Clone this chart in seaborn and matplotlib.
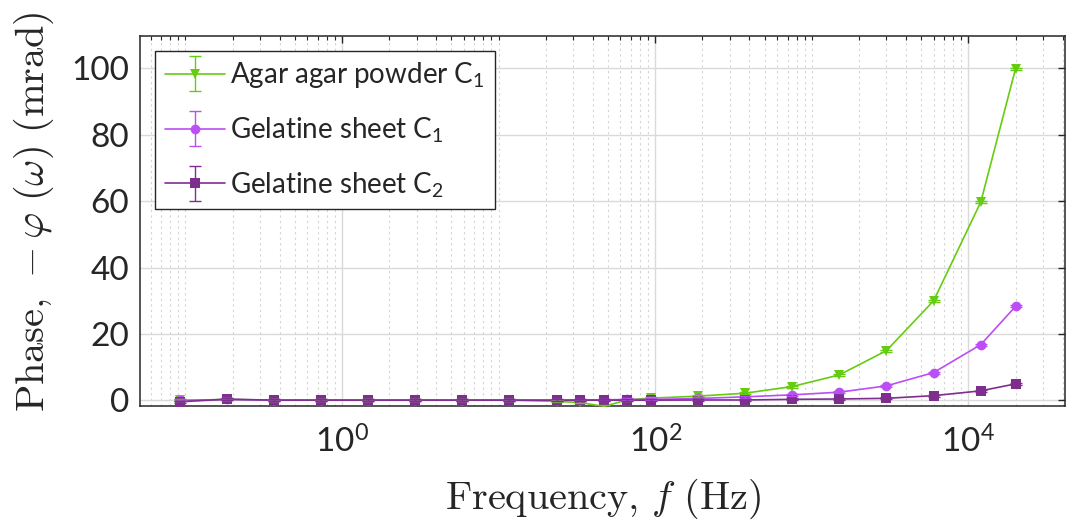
import numpy as np
import pandas as pd
import seaborn as sns
import matplotlib
matplotlib.use("Agg")
import matplotlib.pyplot as plt
from matplotlib.ticker import FixedLocator, LogLocator, NullFormatter, LogFormatterSciNotation
from matplotlib.container import ErrorbarContainer
from matplotlib.legend_handler import HandlerErrorbar

# data
freq = [0.092, 0.184, 0.367, 0.734, 1.47, 2.94, 5.87, 11.7, 23.5, 33.2, 47.0,
        66.4, 94, 188, 376, 751, 1500, 3000, 6000, 12000, 20000]

agar_c1 = [0.0, 0.3, 0.1, 0.1, 0.1, 0.1, 0.1, 0.1, -0.3, -0.6, -1.8,
           0.2, 0.7, 1.3, 2.2, 4.2, 7.7, 15.0, 30.0, 59.7, 99.8]
gel_c1 = [0.0, 0.3, 0.1, 0.1, 0.1, 0.1, 0.1, 0.1, 0.1, 0.2, 0.2,
          0.3, 0.3, 0.6, 1.1, 1.7, 2.5, 4.4, 8.4, 16.8, 28.3]
gel_c2 = [-0.4, 0.4, 0.1, 0.1, 0.1, 0.1, 0.1, 0.1, 0.1, 0.1, 0.1,
          0.1, 0.1, 0.15, 0.15, 0.35, 0.45, 0.65, 1.45, 2.9, 5.0]

agar_err = [0.3, 0.3, 0.3, 0.3, 0.3, 0.3, 0.3, 0.3, 0.3, 0.3, 0.3,
            0.3, 0.3, 0.3, 0.3, 0.3, 0.3, 0.3, 0.3, 0.3, 0.3]
gel1_err = [0.3, 0.3, 0.3, 0.3, 0.3, 0.3, 0.3, 0.3, 0.3, 0.3, 0.3,
            0.3, 0.3, 0.3, 0.3, 0.3, 0.3, 0.3, 0.3, 0.3, 0.3]
gel2_err = [0.3, 0.3, 0.3, 0.3, 0.3, 0.3, 0.3, 0.3, 0.3, 0.3, 0.3,
            0.3, 0.3, 0.3, 0.3, 0.3, 0.3, 0.3, 0.3, 0.3, 0.3]

names = ["Agar agar powder C$_1$", "Gelatine sheet C$_1$", "Gelatine sheet C$_2$"]
colors = ["#66cc11", "#bb4ef5", "#7e2f8e"]
markers = ["v", "o", "s"]

sns.set_style("white")
plt.rcParams["font.family"] = ["Lato", "DejaVu Sans"]
plt.rcParams["mathtext.fontset"] = "custom"
plt.rcParams["mathtext.rm"] = "Lato"
plt.rcParams["mathtext.it"] = "Lato:italic"
plt.rcParams["mathtext.bf"] = "Lato:bold"

df = pd.concat([
    pd.DataFrame({"f": freq, "phase": agar_c1, "sample": names[0]}),
    pd.DataFrame({"f": freq, "phase": gel_c1, "sample": names[1]}),
    pd.DataFrame({"f": freq, "phase": gel_c2, "sample": names[2]}),
])

fig = plt.figure(figsize=(10.66, 5.31), dpi=100)
ax = fig.add_axes([140 / 1066, 125 / 531, 925 / 1066, 370.5 / 531])

sns.lineplot(data=df, x="f", y="phase", hue="sample", style="sample",
             palette=dict(zip(names, colors)), markers=dict(zip(names, markers)),
             dashes=False, markersize=7, linewidth=1.2, markeredgewidth=0,
             legend=False, ax=ax, zorder=3)

errs = [agar_err, gel1_err, gel2_err]
vals = [agar_c1, gel_c1, gel_c2]
handles = []
for i, name in enumerate(names):
    eb = ax.errorbar(freq, vals[i], yerr=errs[i], fmt="none", ecolor=colors[i],
                     elinewidth=1, capsize=4, capthick=1, zorder=3)
    line = ax.lines[i]
    handles.append(ErrorbarContainer((line, eb.lines[1], eb.lines[2]),
                                     has_xerr=False, has_yerr=True, label=name))

ax.set_xscale("log")
ax.set_xlim(0.0513, 41400)
ax.set_ylim(-1.66, 109.8)
ax.set_yticks([0, 20, 40, 60, 80, 100])
ax.xaxis.set_major_locator(FixedLocator([1, 100, 10000]))
ax.xaxis.set_major_formatter(LogFormatterSciNotation())
ax.xaxis.set_minor_locator(LogLocator(base=10, subs=np.arange(1, 10), numticks=50))
ax.xaxis.set_minor_formatter(NullFormatter())

ax.grid(True, which="major", axis="both", color="#dadada", linewidth=1, zorder=0)
ax.grid(True, which="minor", axis="x", color="#d4d4d4", linestyle=(0, (2, 3)), linewidth=0.8)
ax.set_axisbelow(True)

ax.tick_params(which="both", direction="in", top=True, right=True, colors="#262626")
ax.tick_params(which="major", length=5, width=1, labelsize=24)
ax.tick_params(axis="y", which="major", pad=8)
ax.tick_params(axis="x", which="major", pad=14)
ax.tick_params(which="minor", length=3, width=0.8)
for s in ax.spines.values():
    s.set_color("#262626")
    s.set_linewidth(1.1)

ax.set_xlabel(r"$\mathrm{Frequency,}\,f\ \mathrm{(Hz)}$", fontsize=29,
              math_fontfamily="cm", color="#262626")
ax.set_ylabel(r"$\mathrm{Phase,}\,-\varphi\ (\omega)\ \mathrm{(mrad)}$", fontsize=29,
              math_fontfamily="cm", color="#262626")
ax.xaxis.set_label_coords(0.5, -0.19)
ax.yaxis.set_label_coords(-0.091, 0.524)

leg = ax.legend(handles=handles, loc="upper left", fontsize=20,
                handler_map={ErrorbarContainer: HandlerErrorbar(yerr_size=0.63)},
                handlelength=2.15, handletextpad=0.2, labelspacing=0.9,
                borderpad=0.35, borderaxespad=0.55,
                fancybox=False, framealpha=1, edgecolor="#262626")
leg.get_frame().set_linewidth(1)

fig.savefig("out.png", dpi=100)
